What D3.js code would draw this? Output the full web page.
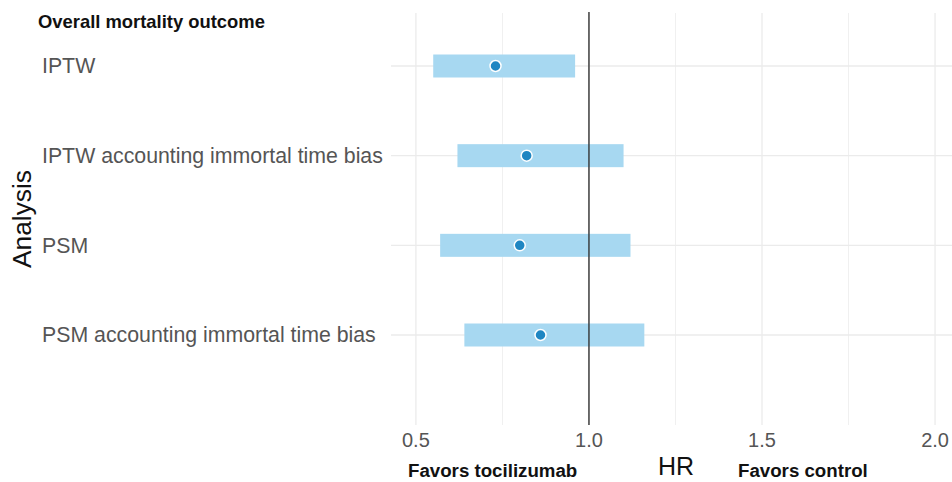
<!DOCTYPE html>
<html lang="en">
<head>
<meta charset="UTF-8">
<title>Overall mortality outcome</title>
<script src="https://cdn.jsdelivr.net/npm/d3@7"></script>
<style>
  body { margin: 0; background: #fff; font-family: "Liberation Sans", Arial, sans-serif; }
</style>
</head>
<body>
<div id="chart"></div>
<script>
// forest plot data
const analyses = ["IPTW", "IPTW accounting immortal time bias", "PSM", "PSM accounting immortal time bias"];
const hr = [0.73, 0.82, 0.80, 0.86];
const lower = [0.55, 0.62, 0.57, 0.64];
const upper = [0.96, 1.10, 1.12, 1.16];
const majorTicks = [0.5, 1.0, 1.5, 2.0];
const minorTicks = [0.75, 1.25, 1.75];

const W = 952, H = 482;
const svg = d3.select("#chart").append("svg").attr("width", W).attr("height", H);

const panel = {left: 391, right: 952, top: 13, bottom: 425};

const x = d3.scaleLinear().domain([0.428, 2.049]).range([panel.left, panel.right]);
const y = d3.scalePoint().domain(analyses).range([66, 335]);

// grid
svg.append("g").selectAll("line").data(minorTicks).join("line")
  .attr("x1", d => x(d)).attr("x2", d => x(d))
  .attr("y1", panel.top).attr("y2", panel.bottom)
  .attr("stroke", "#f0f0f0").attr("stroke-width", 1);
svg.append("g").selectAll("line").data(majorTicks).join("line")
  .attr("x1", d => x(d)).attr("x2", d => x(d))
  .attr("y1", panel.top).attr("y2", panel.bottom)
  .attr("stroke", "#ebebeb").attr("stroke-width", 1.3);
svg.append("g").selectAll("line").data(analyses).join("line")
  .attr("x1", panel.left).attr("x2", panel.right)
  .attr("y1", d => y(d)).attr("y2", d => y(d))
  .attr("stroke", "#ebebeb").attr("stroke-width", 1.3);

// CI bars
const rows = analyses.map((a, i) => ({a, hr: hr[i], lo: lower[i], hi: upper[i]}));
svg.append("g").selectAll("rect").data(rows).join("rect")
  .attr("x", d => x(d.lo)).attr("width", d => x(d.hi) - x(d.lo))
  .attr("y", d => y(d.a) - 11.5).attr("height", 23)
  .attr("fill", "#a7d8f1");

// reference line
svg.append("line")
  .attr("x1", x(1)).attr("x2", x(1))
  .attr("y1", panel.top - 1).attr("y2", panel.bottom)
  .attr("stroke", "#333").attr("stroke-width", 1.4);

// points
svg.append("g").selectAll("circle").data(rows).join("circle")
  .attr("cx", d => x(d.hr)).attr("cy", d => y(d.a))
  .attr("r", 5.5)
  .attr("fill", "#1f86c2").attr("stroke", "#fff").attr("stroke-width", 1.5);

// y labels
svg.append("g").selectAll("text").data(analyses).join("text")
  .attr("x", 42).attr("y", d => y(d)).attr("dy", "0.35em")
  .attr("font-size", 21.3).attr("fill", "#555")
  .text(d => d);

// x tick labels
svg.append("g").selectAll("text").data(majorTicks).join("text")
  .attr("x", d => x(d)).attr("y", 447)
  .attr("text-anchor", "middle")
  .attr("font-size", 20).attr("fill", "#555")
  .text(d => d3.format(".1f")(d));

// titles
svg.append("text").attr("x", 38).attr("y", 28)
  .attr("font-size", 18.4).attr("font-weight", "bold").attr("fill", "#111")
  .text("Overall mortality outcome");

svg.append("text")
  .attr("transform", "translate(31,219) rotate(-90)")
  .attr("text-anchor", "middle")
  .attr("font-size", 26.3).attr("fill", "#111")
  .text("Analysis");

svg.append("text").attr("x", 676).attr("y", 475)
  .attr("text-anchor", "middle")
  .attr("font-size", 25).attr("fill", "#111")
  .text("HR");

svg.append("text").attr("x", 408).attr("y", 477)
  .attr("font-size", 18.7).attr("font-weight", "bold").attr("fill", "#111")
  .text("Favors tocilizumab");

svg.append("text").attr("x", 738).attr("y", 477)
  .attr("font-size", 18.7).attr("font-weight", "bold").attr("fill", "#111")
  .text("Favors control");
</script>
</body>
</html>
